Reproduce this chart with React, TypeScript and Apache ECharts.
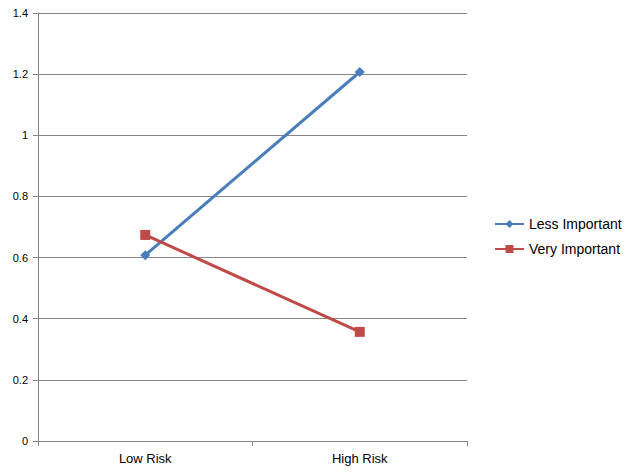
import React, { useEffect, useRef } from "react";
import * as echarts from "echarts";

const categories = ["Low Risk", "High Risk"];
const lessImportant = [0.608, 1.207];
const veryImportant = [0.674, 0.357];
const yTicks = [0, 0.2, 0.4, 0.6, 0.8, 1, 1.2, 1.4];

export default function App() {
  const ref = useRef<HTMLDivElement>(null);
  useEffect(() => {
    const chart = echarts.init(ref.current!, null, { renderer: "svg" });
    chart.setOption({
      animation: false,
      backgroundColor: "#ffffff",
      textStyle: { fontFamily: "Liberation Sans, Arial, sans-serif" },
      grid: { left: 38, right: 162, top: 13, bottom: 34, containLabel: false },
      legend: {
        orient: "vertical",
        left: 489,
        top: 212,
        itemWidth: 29,
        itemHeight: 10,
        itemGap: 11,
        textStyle: { fontSize: 14, lineHeight: 14, color: "#000" },
        data: ["Less Important", "Very Important"],
      },
      xAxis: {
        type: "category",
        data: categories,
        boundaryGap: true,
        axisLine: { lineStyle: { color: "#868686", width: 1 } },
        axisTick: { show: true, length: 5, lineStyle: { color: "#868686" } },
        axisLabel: { color: "#000", fontSize: 13, margin: 11 },
      },
      yAxis: {
        type: "value",
        min: 0,
        max: 1.4,
        interval: 0.2,
        axisLine: { show: true, lineStyle: { color: "#868686", width: 1 } },
        axisTick: { show: true, length: 5, lineStyle: { color: "#868686" } },
        axisLabel: {
          color: "#000",
          fontSize: 11,
          margin: 10,
          formatter: (v: number) => {
            const t = yTicks.find((x) => Math.abs(x - v) < 1e-9);
            return t === undefined ? "" : String(t);
          },
        },
        splitLine: { lineStyle: { color: "#868686", width: 1 } },
      },
      series: [
        {
          name: "Less Important",
          type: "line",
          data: lessImportant,
          symbol: "diamond",
          symbolSize: 10,
          itemStyle: { color: "#4A7EBB" },
          lineStyle: { color: "#4A7EBB", width: 3 },
        },
        {
          name: "Very Important",
          type: "line",
          data: veryImportant,
          symbol: "rect",
          symbolSize: 10,
          itemStyle: { color: "#BE4B48" },
          lineStyle: { color: "#BE4B48", width: 3 },
        },
      ],
    });
    return () => chart.dispose();
  }, []);
  return <div ref={ref} style={{ width: 629, height: 475, position: "fixed", left: 0, top: 0 }} />;
}
